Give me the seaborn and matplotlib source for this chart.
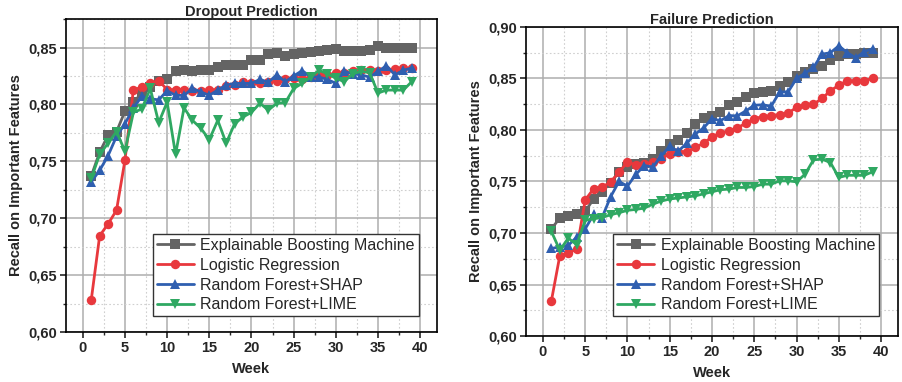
import numpy as np
import pandas as pd
import seaborn as sns
import matplotlib.pyplot as plt
from matplotlib.ticker import MultipleLocator, FuncFormatter

weeks = list(range(1, 40))
models = ['Explainable Boosting Machine', 'Logistic Regression',
          'Random Forest+SHAP', 'Random Forest+LIME']

# Dropout prediction
dropout_ebm = [0.737, 0.758, 0.773, 0.776, 0.794, 0.802, 0.810, 0.815, 0.821, 0.822,
               0.829, 0.830, 0.829, 0.830, 0.830, 0.833, 0.835, 0.835, 0.835, 0.839,
               0.839, 0.844, 0.845, 0.843, 0.844, 0.845, 0.846, 0.847, 0.848, 0.849,
               0.847, 0.847, 0.847, 0.848, 0.851, 0.850, 0.850, 0.850, 0.850]
dropout_lr = [0.628, 0.6845, 0.695, 0.707, 0.751, 0.813, 0.815, 0.8185, 0.821, 0.813,
              0.813, 0.813, 0.812, 0.812, 0.813, 0.813, 0.816, 0.8175, 0.8195, 0.819,
              0.819, 0.8195, 0.8205, 0.8225, 0.8235, 0.8225, 0.824, 0.826, 0.826, 0.8275,
              0.828, 0.829, 0.830, 0.830, 0.8297, 0.830, 0.831, 0.832, 0.832]
dropout_shap = [0.732, 0.742, 0.755, 0.772, 0.783, 0.797, 0.807, 0.805, 0.804, 0.812,
                0.808, 0.808, 0.814, 0.811, 0.808, 0.8126, 0.817, 0.8185, 0.8185, 0.8185,
                0.822, 0.8195, 0.826, 0.820, 0.825, 0.8297, 0.8245, 0.824, 0.822, 0.8185,
                0.829, 0.827, 0.826, 0.824, 0.829, 0.834, 0.826, 0.830, 0.832]
dropout_lime = [0.735, 0.756, 0.766, 0.776, 0.759, 0.793, 0.796, 0.814, 0.784, 0.802,
                0.756, 0.797, 0.786, 0.779, 0.769, 0.786, 0.766, 0.783, 0.789, 0.793,
                0.801, 0.795, 0.801, 0.8015, 0.814, 0.8185, 0.824, 0.830, 0.827, 0.823,
                0.820, 0.827, 0.829, 0.828, 0.810, 0.8126, 0.8126, 0.8126, 0.820]

# Failure prediction
failure_ebm = [0.704, 0.7145, 0.7165, 0.7187, 0.721, 0.733, 0.740, 0.749, 0.759, 0.764,
               0.767, 0.768, 0.772, 0.780, 0.786, 0.790, 0.797, 0.806, 0.812, 0.814,
               0.817, 0.824, 0.827, 0.832, 0.836, 0.837, 0.838, 0.843, 0.847, 0.852,
               0.856, 0.859, 0.862, 0.868, 0.872, 0.8736, 0.8736, 0.8746, 0.8746]
failure_lr = [0.634, 0.678, 0.681, 0.684, 0.732, 0.743, 0.7445, 0.7494, 0.759, 0.769,
              0.766, 0.767, 0.769, 0.772, 0.777, 0.779, 0.779, 0.783, 0.787, 0.7935,
              0.797, 0.799, 0.802, 0.8066, 0.811, 0.813, 0.8137, 0.815, 0.8163, 0.822,
              0.824, 0.825, 0.8306, 0.838, 0.8435, 0.8477, 0.848, 0.848, 0.850]
failure_shap = [0.685, 0.6865, 0.688, 0.696, 0.704, 0.718, 0.715, 0.735, 0.750, 0.7455,
                0.757, 0.7655, 0.764, 0.775, 0.784, 0.7794, 0.787, 0.796, 0.802, 0.811,
                0.809, 0.814, 0.8137, 0.8185, 0.824, 0.8245, 0.823, 0.837, 0.837, 0.850,
                0.855, 0.8607, 0.8736, 0.875, 0.8817, 0.875, 0.870, 0.8759, 0.879]
failure_lime = [0.7016, 0.6832, 0.695, 0.6887, 0.7123, 0.7139, 0.715, 0.7177, 0.7197, 0.722,
                0.7229, 0.7242, 0.728, 0.731, 0.733, 0.734, 0.735, 0.736, 0.738, 0.740,
                0.742, 0.7426, 0.7442, 0.7442, 0.7451, 0.7474, 0.7474, 0.7506, 0.7506, 0.7497,
                0.757, 0.771, 0.7717, 0.7684, 0.7539, 0.756, 0.756, 0.756, 0.7594]

colors = ['#646464', '#e8383d', '#2f5fb0', '#2fa862']
markers = ['s', 'o', '^', 'v']


def long_df(series):
    rows = []
    for name, vals in zip(models, series):
        for w, v in zip(weeks, vals):
            rows.append((w, v, name))
    return pd.DataFrame(rows, columns=['Week', 'Recall', 'Model'])


sns.set_style('white')
plt.rcParams['font.family'] = ['Liberation Sans', 'DejaVu Sans']

fig = plt.figure(figsize=(9.03, 3.82), dpi=100)
ax1 = fig.add_axes([0.073, 0.131, 0.411, 0.819])
ax2 = fig.add_axes([0.5825, 0.1204, 0.412, 0.809])

panels = [
    (ax1, [dropout_ebm, dropout_lr, dropout_shap, dropout_lime], 'Dropout Prediction', (0.60, 0.875), 0.313),
    (ax2, [failure_ebm, failure_lr, failure_shap, failure_lime], 'Failure Prediction', (0.60, 0.90), 0.33),
]

fmt = FuncFormatter(lambda v, p: f'{v:.2f}'.replace('.', ','))

for ax, series, title, ylim, leg_y in panels:
    df = long_df(series)
    sns.lineplot(data=df, x='Week', y='Recall', hue='Model', style='Model',
                 palette=colors, markers=markers, dashes=False, ax=ax,
                 linewidth=2, markersize=6.8, markeredgewidth=0)
    ax.set_xlim(-2, 42)
    ax.set_ylim(*ylim)
    ax.xaxis.set_major_locator(MultipleLocator(5))
    ax.xaxis.set_minor_locator(MultipleLocator(2.5))
    ax.yaxis.set_major_locator(MultipleLocator(0.05))
    ax.yaxis.set_minor_locator(MultipleLocator(0.025))
    ax.yaxis.set_major_formatter(fmt)
    ax.grid(which='major', color='#adadad', linewidth=1.1, linestyle='-')
    ax.grid(which='minor', color='#cfcfcf', linewidth=0.8, linestyle=(0, (1.5, 2)))
    ax.set_axisbelow(True)
    for s in ax.spines.values():
        s.set_color('black')
        s.set_linewidth(1.2)
    ax.tick_params(which='major', direction='out', length=4, width=1.2, pad=2.5,
                   labelsize=10.5, bottom=True, left=True)
    ax.tick_params(which='minor', direction='out', length=2.5, width=1.0,
                   bottom=True, left=True)
    for lab in ax.get_xticklabels() + ax.get_yticklabels():
        lab.set_fontweight('bold')
    ax.set_title(title, fontsize=10.5, fontweight='bold', pad=2)
    ax.set_xlabel('Week', fontsize=10.5, fontweight='bold', labelpad=5)
    ax.set_ylabel('Recall on Important Features', fontsize=10.5, fontweight='bold', labelpad=4)
    ax.legend(loc='upper left', bbox_to_anchor=(0.235, leg_y), fontsize=11.5,
              frameon=True, fancybox=False, edgecolor='#333333', framealpha=1,
              borderpad=0.25, labelspacing=0.3, handlelength=2.3, handletextpad=0.4,
              borderaxespad=0)

fig.savefig('out.png', dpi=100)
